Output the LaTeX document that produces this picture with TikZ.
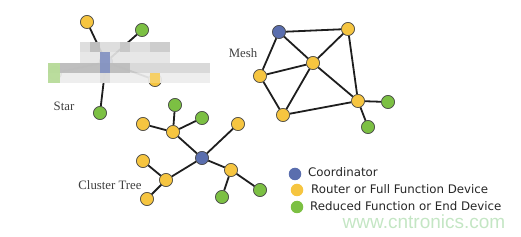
\documentclass[tikz,border=0pt]{standalone}
\usepackage{fontspec}
\setmainfont{Liberation Serif}
\newfontfamily\legendfont{DejaVu Sans}
\newfontfamily\wmfont{Liberation Sans}
\definecolor{cblue}{HTML}{5A6EAE}
\definecolor{cyellow}{HTML}{F6C540}
\definecolor{cgreen}{HTML}{7CC043}
\definecolor{edge}{HTML}{1E1E1E}
\definecolor{wm}{HTML}{C4E6C4}
\begin{document}
\begin{tikzpicture}[x=1pt,y=-1pt,
  dev/.style={circle,draw=black!70,line width=0.6pt,minimum size=13pt,inner sep=0pt},
  coord/.style={dev,fill=cblue},
  rout/.style={dev,fill=cyellow},
  endd/.style={dev,fill=cgreen},
  link/.style={draw=edge,line width=1.8pt},
  lab/.style={font=\fontsize{12.8}{14}\selectfont,text=black!75},
  leg/.style={font=\legendfont\fontsize{11.8}{13}\selectfont,text=black!85,anchor=west,inner sep=0pt},
  mos/.style={fill=#1,draw=none}]
\useasboundingbox (0,0) rectangle (521,237);
% ---- Star ----
\node[coord] (s0) at (106,62) {};
\node[rout] (s1) at (87,22) {};
\node[endd] (s2) at (142,30) {};
\node[endd] (s3) at (55,73) {};
\node[rout] (s4) at (155,80) {};
\node[endd] (s5) at (100,113) {};
\foreach \n in {s1,s2,s3,s4,s5} \draw[link] (s0) -- (\n);
\node[coord] at (s0) {};
\node[rout] at (s1) {};\node[endd] at (s2) {};\node[endd] at (s3) {};\node[rout] at (s4) {};\node[endd] at (s5) {};
% mosaic
\fill[mos=black!14,opacity=0.92] (80,42) rectangle (170,52);
\fill[mos=black!10,opacity=0.92] (80,52) rectangle (170,63);
\fill[mos=black!26,opacity=0.92] (90,42) rectangle (100,52);
\fill[mos=black!22,opacity=0.92] (120,42) rectangle (130,52);
\fill[mos=black!20,opacity=0.92] (150,42) rectangle (170,52);
\fill[mos=black!16,opacity=0.92] (48,63) rectangle (210,73);
\fill[mos=black!26,opacity=0.92] (60,63) rectangle (130,73);
\fill[mos=black!7,opacity=0.92] (48,73) rectangle (210,83);
\fill[mos=cblue!75,opacity=0.92] (100,52) rectangle (110,73);
\fill[mos=cgreen!55,opacity=0.92] (48,63) rectangle (60,83);
\fill[mos=cyellow!85,opacity=0.92] (150,73) rectangle (160,83);
\fill[mos=black!14,opacity=0.92] (100,73) rectangle (110,83);
\node[lab] (lstar) at (64,106) {Star};
% ---- Mesh ----
\node[coord] (m0) at (279,32) {};
\node[rout] (m1) at (348,29) {};
\node[rout] (m2) at (313,63) {};
\node[rout] (m3) at (260,76) {};
\node[rout] (m4) at (283,115) {};
\node[rout] (m5) at (358,101) {};
\node[endd] (m6) at (388,102) {};
\node[endd] (m7) at (368,127) {};
\draw[link] (m0) -- (m1) (m0) -- (m2) (m0) -- (m3) (m3) -- (m2) (m3) -- (m4)
  (m2) -- (m1) (m2) -- (m4) (m2) -- (m5) (m1) -- (m5) (m4) -- (m5) (m5) -- (m6) (m5) -- (m7);
\node[coord] at (m0) {};
\foreach \n in {m1,m2,m3,m4,m5} \node[rout] at (\n) {};
\node[endd] at (m6) {};\node[endd] at (m7) {};
\node[lab] (lmesh) at (243,53) {Mesh};
% ---- Cluster tree ----
\node[coord] (c0) at (202,158) {};
\node[rout] (ca) at (173,132) {};
\node[rout] (ca1) at (143,124) {};
\node[endd] (ca2) at (175,105) {};
\node[endd] (ca3) at (202,118) {};
\node[rout] (cu) at (238,124) {};
\node[rout] (cb) at (166,180) {};
\node[rout] (cb1) at (143,161) {};
\node[rout] (cb2) at (147,199) {};
\node[rout] (cc) at (231,170) {};
\node[endd] (cc1) at (222,197) {};
\node[endd] (cc2) at (260,190) {};
\draw[link] (c0) -- (ca) (ca) -- (ca1) (ca) -- (ca2) (ca) -- (ca3) (c0) -- (cu)
  (c0) -- (cb) (cb) -- (cb1) (cb) -- (cb2) (c0) -- (cc) (cc) -- (cc1) (cc) -- (cc2);
\node[coord] at (c0) {};
\foreach \n in {ca,ca1,cu,cb,cb1,cb2,cc} \node[rout] at (\n) {};
\foreach \n in {ca2,ca3,cc1,cc2} \node[endd] at (\n) {};
\node[lab] (lct) at (110,185) {Cluster Tree};
% ---- Legend ----
\node[coord,draw=none,minimum size=12.5pt] (k1) at (295,174) {};
\node[rout,draw=none,minimum size=12.5pt] (k2) at (297,190) {};
\node[endd,draw=none,minimum size=12.5pt] (k3) at (297,207) {};
\node[leg] (t1) at (308,172) {Coordinator};
\node[leg] (t2) at (311,189) {Router or Full Function Device};
\node[leg] (t3) at (310,206) {Reduced Function or End Device};
\node[font=\wmfont\fontsize{19}{20}\selectfont,text=wm,inner sep=0pt,anchor=base] (wmk) at (424,229) {www.cntronics.com};
\end{tikzpicture}
\end{document}
